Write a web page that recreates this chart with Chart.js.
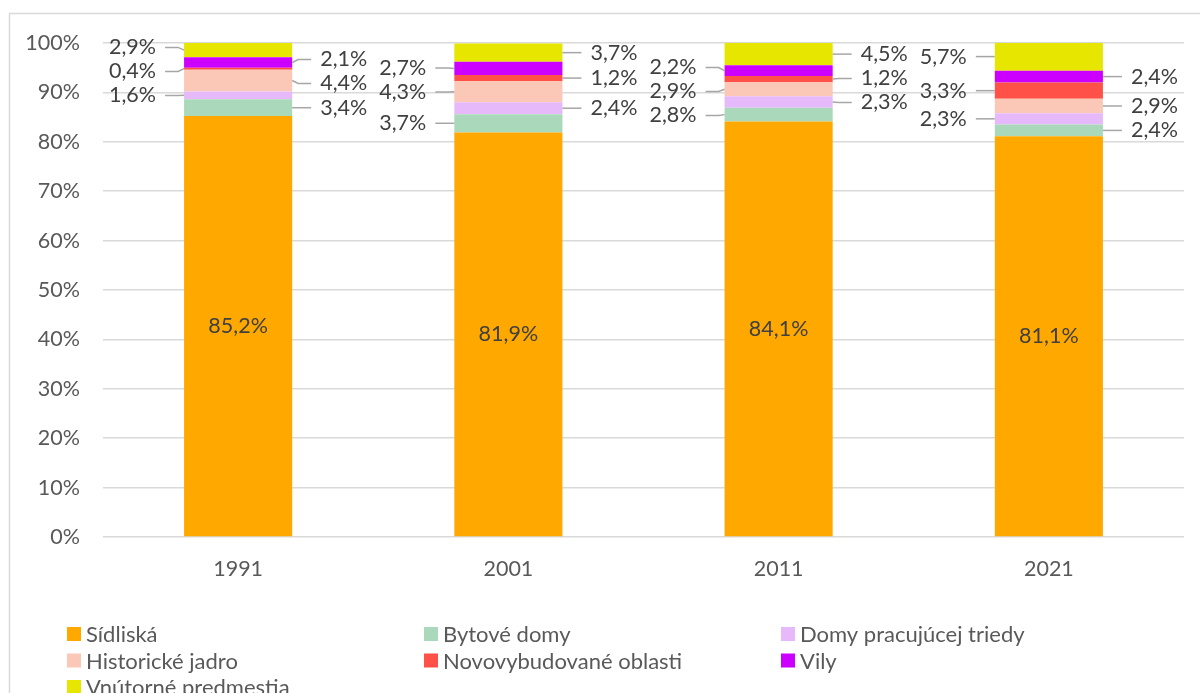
<!DOCTYPE html>
<html lang="sk">
<head>
<meta charset="utf-8">
<title>Štruktúra podľa typu zástavby</title>
<script src="https://cdn.jsdelivr.net/npm/chart.js@4.4.1/dist/chart.umd.min.js"></script>
<style>
  html, body { margin: 0; padding: 0; background: #ffffff; }
  #wrap { width: 1200px; height: 693px; }
</style>
</head>
<body>
<div id="wrap"><canvas id="chart" width="1200" height="693"></canvas></div>
<script>
// Census years
const years = ['1991', '2001', '2011', '2021'];

// Shares of each type of built-up area (%), bottom to top in the stack
const sidliska = [85.2, 81.9, 84.1, 81.1];
const bytoveDomy = [3.4, 3.7, 2.8, 2.4];
const domyPracujucejTriedy = [1.6, 2.4, 2.3, 2.3];
const historickeJadro = [4.4, 4.3, 2.9, 2.9];
const novovybudovaneOblasti = [0.4, 1.2, 1.2, 3.3];
const vily = [2.1, 2.7, 2.2, 2.4];
const vnutornePredmestia = [2.9, 3.7, 4.5, 5.7];

// Y axis tick values
const yTickValues = [0, 10, 20, 30, 40, 50, 60, 70, 80, 90, 100];

// Side of the label for the topmost segment in each column; sides alternate downwards
const topLabelSide = ['left', 'right', 'right', 'left'];

const FONT = 'Lato, "Open Sans", sans-serif';
const fmt = v => v.toFixed(1).replace('.', ',') + '%';

const series = [
  { label: 'Sídliská', data: sidliska, color: '#FFA800' },
  { label: 'Bytové domy', data: bytoveDomy, color: '#A9D9BA' },
  { label: 'Domy pracujúcej triedy', data: domyPracujucejTriedy, color: '#E6B9FB' },
  { label: 'Historické jadro', data: historickeJadro, color: '#FBC7B7' },
  { label: 'Novovybudované oblasti', data: novovybudovaneOblasti, color: '#FF5147' },
  { label: 'Vily', data: vily, color: '#CC00FF' },
  { label: 'Vnútorné predmestia', data: vnutornePredmestia, color: '#E6E600' }
];

// White background and the light frame around the chart
const frame = {
  id: 'frame',
  beforeDraw(chart) {
    const ctx = chart.ctx;
    ctx.save();
    ctx.fillStyle = '#ffffff';
    ctx.fillRect(0, 0, chart.width, chart.height);
    ctx.strokeStyle = '#d9d9d9';
    ctx.lineWidth = 1.5;
    ctx.strokeRect(9.5, 13.5, chart.width + 20, chart.height + 20);
    ctx.restore();
  }
};

// Value labels: centred in the base segment, outside with leader lines for the rest
const leaderLabels = {
  id: 'leaderLabels',
  afterDatasetsDraw(chart, args, opts) {
    const ctx = chart.ctx;
    const gap = 24;
    ctx.save();
    ctx.font = '21.5px ' + FONT;
    ctx.textBaseline = 'middle';
    const nCat = chart.data.labels.length;
    const nDs = chart.data.datasets.length;
    for (let i = 0; i < nCat; i++) {
      const base = chart.getDatasetMeta(0).data[i].getProps(['x', 'y', 'base'], true);
      ctx.fillStyle = '#404040';
      ctx.textAlign = 'center';
      ctx.fillText(fmt(chart.data.datasets[0].data[i]), base.x, (base.y + base.base) / 2);

      const groups = { left: [], right: [] };
      let side = opts.sides[i];
      for (let d = nDs - 1; d >= 1; d--) {
        const p = chart.getDatasetMeta(d).data[i].getProps(['x', 'y', 'base', 'width'], true);
        const cy = (p.y + p.base) / 2;
        groups[side].push({
          anchor: cy,
          y: cy,
          text: fmt(chart.data.datasets[d].data[i]),
          edge: side === 'left' ? p.x - p.width / 2 : p.x + p.width / 2
        });
        side = side === 'left' ? 'right' : 'left';
      }

      for (const s of ['left', 'right']) {
        const items = groups[s].sort((a, b) => a.anchor - b.anchor);
        for (let it = 0; it < 30; it++) {
          for (let k = 1; k < items.length; k++) {
            const dist = items[k].y - items[k - 1].y;
            if (dist < gap) {
              const shift = (gap - dist) / 2;
              items[k - 1].y -= shift;
              items[k].y += shift;
            }
          }
        }
        const dir = s === 'left' ? -1 : 1;
        for (const lab of items) {
          ctx.strokeStyle = '#a6a6a6';
          ctx.lineWidth = 1.5;
          ctx.beginPath();
          ctx.moveTo(lab.edge, lab.anchor);
          ctx.lineTo(lab.edge + dir * 6, lab.y);
          ctx.lineTo(lab.edge + dir * 19, lab.y);
          ctx.stroke();
          ctx.fillStyle = '#404040';
          ctx.textAlign = s === 'left' ? 'right' : 'left';
          ctx.fillText(lab.text, lab.edge + dir * 28, lab.y);
        }
      }
    }
    ctx.restore();
  }
};

// Legend laid out in three fixed columns below the plot
const gridLegend = {
  id: 'gridLegend',
  afterDraw(chart, args, opts) {
    const ctx = chart.ctx;
    ctx.save();
    ctx.font = '22px ' + FONT;
    ctx.textBaseline = 'middle';
    ctx.textAlign = 'left';
    chart.data.datasets.forEach((ds, k) => {
      const col = k % opts.columns;
      const row = Math.floor(k / opts.columns);
      const x = opts.left + col * opts.colWidth;
      const y = opts.top + row * opts.rowHeight;
      ctx.fillStyle = ds.backgroundColor;
      ctx.fillRect(x, y - 7, 14, 14);
      ctx.fillStyle = '#595959';
      ctx.fillText(ds.label, x + 19, y + 1);
    });
    ctx.restore();
  }
};

new Chart(document.getElementById('chart'), {
  type: 'bar',
  data: {
    labels: years,
    datasets: series.map(s => ({
      label: s.label,
      data: s.data,
      backgroundColor: s.color,
      borderWidth: 0,
      categoryPercentage: 0.8,
      barPercentage: 0.5
    }))
  },
  options: {
    responsive: false,
    animation: false,
    devicePixelRatio: 1,
    layout: { padding: { left: 9, right: 16, top: 43, bottom: 0 } },
    plugins: {
      legend: { display: false },
      tooltip: { enabled: false },
      leaderLabels: { sides: topLabelSide },
      gridLegend: { columns: 3, left: 67, colWidth: 357, top: 634, rowHeight: 26.5 }
    },
    scales: {
      x: {
        stacked: true,
        grid: { display: false },
        border: { display: false },
        ticks: { color: '#595959', font: { family: FONT, size: 21.5 }, padding: 11 },
        afterFit(scale) { scale.height = 156; }
      },
      y: {
        stacked: true,
        min: 0,
        max: 100,
        afterBuildTicks(scale) { scale.ticks = yTickValues.map(v => ({ value: v })); },
        grid: { color: '#d9d9d9', lineWidth: 1.5, drawTicks: false },
        border: { display: false },
        ticks: {
          color: '#595959',
          font: { family: FONT, size: 21.5 },
          padding: 23,
          callback: v => v + '%'
        },
        afterFit(scale) { scale.width = 94; }
      }
    }
  },
  plugins: [frame, leaderLabels, gridLegend]
});
</script>
</body>
</html>
